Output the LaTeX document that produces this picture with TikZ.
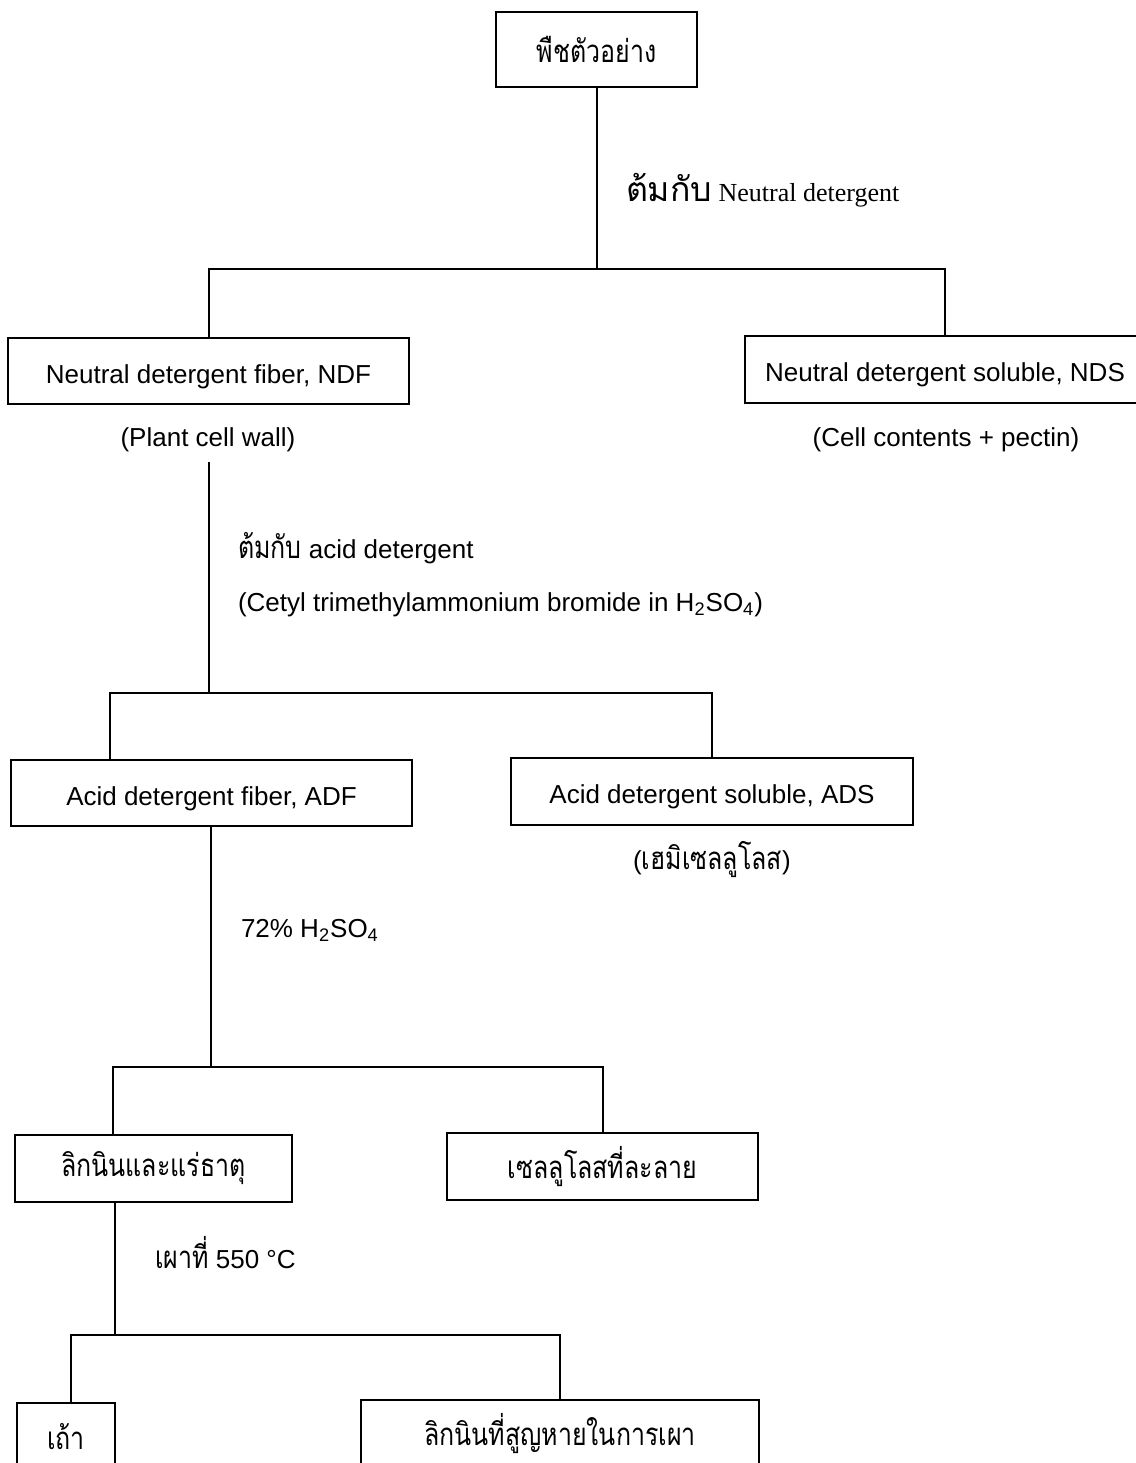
\documentclass[tikz,border=0pt]{standalone}
\usepackage{fontspec}
\setmainfont{Liberation Sans}
\newfontfamily\serifL{Liberation Serif}
\newfontfamily\thai[Script=Thai,Scale=1.2,FakeStretch=0.8]{Loma}
\newfontfamily\thaiS[Script=Thai,Scale=1.3]{Loma}
\begin{document}
\begin{tikzpicture}[x=0.5pt,y=-0.5pt,line width=1pt,
  box/.style={draw,inner sep=0pt,font=\fontsize{13}{15}\selectfont},
  lbox/.style={box,text height=12pt,text depth=0pt},
  lab/.style={inner sep=0pt,font=\fontsize{13}{15}\selectfont}]
\useasboundingbox (0,0) rectangle (1136,1463);
\clip (0,0) rectangle (1136,1463);
\fill[white] (0,0) rectangle (1136,1463);

% boxes
\node[box,minimum width=100.5pt,minimum height=37.5pt] (top) at (596.5,49.5) {\thai พืชตัวอย่าง};
\node[lbox,minimum width=200.5pt,minimum height=33pt] (ndf) at (208.5,371) {Neutral detergent fiber, NDF};
\node[lbox,minimum width=200pt,minimum height=33.5pt] (nds) at (945,369.5) {Neutral detergent soluble, NDS};
\node[lbox,minimum width=200.5pt,minimum height=33pt] (adf) at (211.5,793) {Acid detergent fiber, ADF};
\node[lbox,minimum width=201pt,minimum height=33.5pt] (ads) at (712,791.5) {Acid detergent soluble, ADS};
\node[box,minimum width=138.5pt,minimum height=33.5pt] (lig) at (153.5,1168.5) {\thai ลิกนินและแร่ธาตุ};
\node[box,minimum width=155.5pt,minimum height=33.5pt] (cel) at (602.5,1166.5) {\thai เซลลูโลสที่ละลาย};
\node[box,minimum width=49pt,minimum height=33.5pt] (ash) at (66,1436.5) {\thai เถ้า};
\node[box,minimum width=199pt,minimum height=33.5pt] (lost) at (560,1433.5) {\thai ลิกนินที่สูญหายในการเผา};

% labels
\node[lab,anchor=base west] (l1) at (625,201) {\serifL{\thaiS ต้มกับ} Neutral detergent};
\node[lab] (pcw) at (208,440) {(Plant cell wall)};
\node[lab] (ccp) at (946,440) {(Cell contents + pectin)};
\node[lab,anchor=base west] (l2) at (237,558) {{\thai ต้มกับ} acid detergent};
\node[lab,anchor=base west] (l3) at (237,611) {(Cetyl trimethylammonium bromide in H\textsubscript{2}SO\textsubscript{4})};
\node[lab] (hemi) at (712,860) {({\thai เฮมิเซลลูโลส})};
\node[lab,anchor=base west] (l4) at (240,937) {72\% H\textsubscript{2}SO\textsubscript{4}};
\node[lab,anchor=base west] (l5) at (154,1268) {{\thai เผาที่} 550 °C};

% connectors
\coordinate (j1) at (597,269);
\draw (top.south) -- (top.south |- j1);
\draw (ndf.north) |- (j1) -| (nds.north);

\coordinate (s2) at (209,462);
\coordinate (j2) at (209,693);
\coordinate (j2l) at (110,693);
\draw (s2) -- (j2);
\draw (adf.north -| j2l) -- (j2l) -| (ads.north);

\coordinate (j3) at (211,1067);
\coordinate (j3l) at (113,1067);
\draw (adf.south -| j3) -- (j3);
\draw (lig.north -| j3l) -- (j3l) -| (cel.north);

\coordinate (j4) at (115,1335);
\coordinate (j4l) at (71,1335);
\draw (lig.south -| j4) -- (j4);
\draw (ash.north -| j4l) -- (j4l) -| (lost.north);
\end{tikzpicture}
\end{document}
